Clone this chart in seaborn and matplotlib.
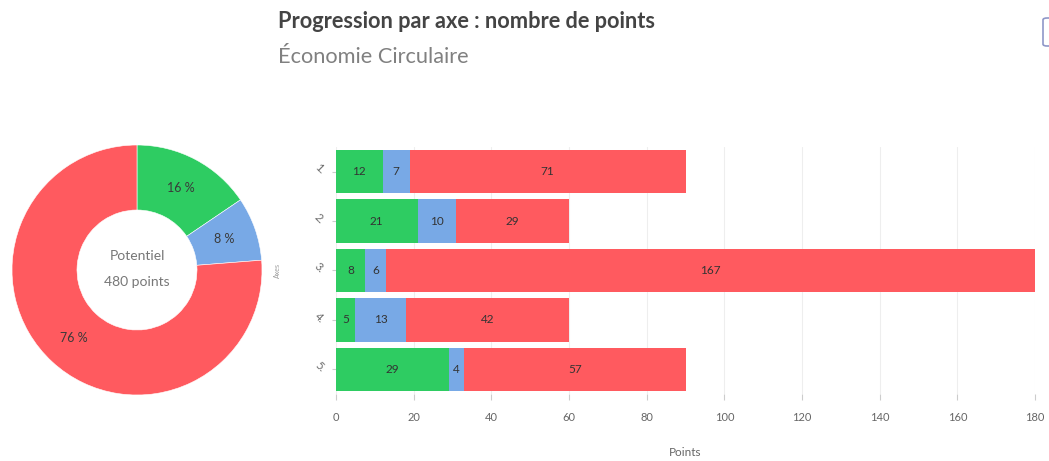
import matplotlib
matplotlib.use('Agg')
import matplotlib.pyplot as plt
from matplotlib.patches import FancyBboxPatch
import numpy as np
import seaborn as sns

axes_names = ['1.', '2.', '3.', '4.', '5.']
acquis = [12, 21, 7.5, 5, 29]
en_cours = [7, 10, 5.5, 13, 4]
restant = [71, 29, 167, 42, 57]
xticks = [0, 20, 40, 60, 80, 100, 120, 140, 160, 180]

GREEN = '#2ECC62'
BLUE = '#78A9E6'
RED = '#FF5A5F'
W, H = 1049, 461

sns.set_style('white')
plt.rcParams['font.family'] = ['Lato', 'DejaVu Sans']

fig = plt.figure(figsize=(W / 100, H / 100), dpi=100)


def px_axes(left, top, right, bottom):
    return fig.add_axes([left / W, 1 - bottom / H, (right - left) / W, (bottom - top) / H])


# donut
ax_pie = px_axes(12, 145, 262, 395)
totals = [sum(acquis), sum(en_cours), sum(restant)]
ax_pie.pie(totals, colors=[GREEN, BLUE, RED], startangle=90, counterclock=False, radius=1,
           wedgeprops={'width': 0.52, 'edgecolor': 'white', 'linewidth': 0.4},
           autopct=lambda p: f'{round(p)} %', pctdistance=0.74,
           textprops={'fontsize': 9, 'color': '#3a3a3a'})
ax_pie.set_xlim(-1, 1)
ax_pie.set_ylim(-1, 1)
ax_pie.text(0, 0.11, 'Potentiel', ha='center', va='center', fontsize=10, color='#777777')
ax_pie.text(0, -0.1, f'{int(sum(totals))} points', ha='center', va='center', fontsize=10, color='#777777')

# stacked bars, drawn from longest to shortest
ax = px_axes(336, 147, 1035, 394)
c1 = np.array(acquis)
c2 = c1 + np.array(en_cours)
c3 = c2 + np.array(restant)
for cum, color in [(c3, RED), (c2, BLUE), (c1, GREEN)]:
    sns.barplot(x=cum, y=axes_names, color=color, width=0.88, saturation=1, orient='h', ax=ax,
                zorder=2, linewidth=0)

for i, name in enumerate(axes_names):
    starts = [0, c1[i], c2[i]]
    for start, val in zip(starts, [acquis[i], en_cours[i], restant[i]]):
        ax.text(start + val / 2, i, f'{int(val + 0.5)}', ha='center', va='center',
                fontsize=8.5, color='#333333', zorder=3)

ax.set_xlim(0, 180)
ax.set_xticks(xticks)
ax.grid(axis='x', color='#eeeeee', linewidth=0.8, zorder=0)
ax.set_axisbelow(True)
sns.despine(ax=ax, left=True, bottom=True, top=True, right=True)
ax.tick_params(axis='x', length=4, color='#cccccc', labelsize=8, labelcolor='#666666', pad=9, bottom=True)
ax.tick_params(axis='y', length=3, color='#cccccc', labelsize=8, labelcolor='#666666', pad=6, left=True)
plt.setp(ax.get_yticklabels(), rotation=-45, ha='right', rotation_mode='anchor')
ax.set_xlabel('Points', fontsize=8.5, color='#666666', labelpad=17)
ax.set_ylabel('')

# headings
fig.text(278 / W, 1 - 21 / H, 'Progression par axe : nombre de points', fontsize=15.7, fontweight='bold',
         color='#444444', va='center')
fig.text(278 / W, 1 - 57 / H, 'Économie Circulaire', fontsize=15.7, color='#808080', va='center')
fig.text(277 / W, 1 - 271 / H, 'Axes', fontsize=5, color='#999999', rotation=90, ha='center', va='center')

# button cut off by the right edge
fig.add_artist(FancyBboxPatch((1043 / W, 1 - 46 / H), 20 / W, 28 / H, boxstyle='round,pad=0,rounding_size=0.004',
                              transform=fig.transFigure, facecolor='white', edgecolor='#8f97c8', linewidth=1.2))

fig.savefig('out.png', dpi=100)
